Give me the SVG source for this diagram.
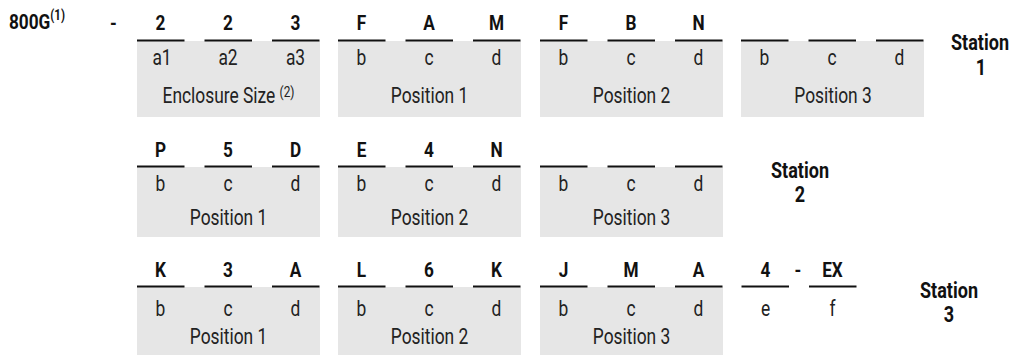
<svg xmlns="http://www.w3.org/2000/svg" width="1013" height="355" viewBox="0 0 1013 355">
<style>
text{font-family:Roboto,"Liberation Sans",sans-serif;fill:#111;text-anchor:middle;transform:scaleX(.82);transform-box:fill-box;transform-origin:50% 50%}
.big{font-weight:bold;font-size:21px}
.lab{font-size:22px;fill:#222;transform:scaleX(.79)}
.st{font-weight:bold;font-size:22px}
.s{text-anchor:start;transform-origin:0 50%}
.box{fill:#e6e6e6}
.ul{fill:#111}
</style>
<rect width="1013" height="355" fill="#fff"/>
<g id="prefix">
<text class="big s" x="9" y="29.5">800G<tspan font-size="14" dy="-9.5">(1)</tspan></text>
<text class="big" x="113.5" y="30">-</text>
</g>
<!-- Station 1 -->
<g id="s1-enclosure">
<rect class="box" x="137" y="41" width="183" height="76"/>
<rect class="ul" x="137" y="39.5" width="47.5" height="2"/><rect class="ul" x="204.5" y="39.5" width="47.5" height="2"/><rect class="ul" x="272" y="39.5" width="47.5" height="2"/>
<text class="big" x="160.5" y="30">2</text><text class="big" x="228" y="30">2</text><text class="big" x="295.5" y="30">3</text>
<text class="lab" x="162" y="65">a1</text><text class="lab" x="228" y="65">a2</text><text class="lab" x="295.5" y="65">a3</text>
<text class="lab" x="228.5" y="103.3">Enclosure Size <tspan font-size="15" dy="-6">(2)</tspan></text>
</g>
<g id="s1-pos1">
<rect class="box" x="338" y="41" width="183" height="76"/>
<rect class="ul" x="338" y="39.5" width="47.5" height="2"/><rect class="ul" x="405.5" y="39.5" width="47.5" height="2"/><rect class="ul" x="473" y="39.5" width="47.5" height="2"/>
<text class="big" x="361.5" y="30">F</text><text class="big" x="429" y="30">A</text><text class="big" x="496.5" y="30">M</text>
<text class="lab" x="361.5" y="65">b</text><text class="lab" x="429" y="65">c</text><text class="lab" x="496.5" y="65">d</text>
<text class="lab" x="429.5" y="103.3">Position 1</text>
</g>
<g id="s1-pos2">
<rect class="box" x="540" y="41" width="183" height="76"/>
<rect class="ul" x="540" y="39.5" width="47.5" height="2"/><rect class="ul" x="607.5" y="39.5" width="47.5" height="2"/><rect class="ul" x="675" y="39.5" width="47.5" height="2"/>
<text class="big" x="563.5" y="30">F</text><text class="big" x="631" y="30">B</text><text class="big" x="698.5" y="30">N</text>
<text class="lab" x="563.5" y="65">b</text><text class="lab" x="631" y="65">c</text><text class="lab" x="698.5" y="65">d</text>
<text class="lab" x="631.5" y="103.3">Position 2</text>
</g>
<g id="s1-pos3">
<rect class="box" x="741" y="41" width="183" height="76"/>
<rect class="ul" x="741" y="39.5" width="47.5" height="2"/><rect class="ul" x="808.5" y="39.5" width="47.5" height="2"/><rect class="ul" x="876" y="39.5" width="47.5" height="2"/>
<text class="lab" x="764.5" y="65">b</text><text class="lab" x="832" y="65">c</text><text class="lab" x="899.5" y="65">d</text>
<text class="lab" x="833" y="103.3">Position 3</text>
</g>
<g id="station1">
<text class="st" x="980" y="50">Station</text><text class="st" x="981" y="75">1</text>
</g>
<!-- Station 2 -->
<g id="s2-pos1">
<rect class="box" x="137" y="167" width="183" height="70"/>
<rect class="ul" x="137" y="165.5" width="47.5" height="2"/><rect class="ul" x="204.5" y="165.5" width="47.5" height="2"/><rect class="ul" x="272" y="165.5" width="47.5" height="2"/>
<text class="big" x="160.5" y="157">P</text><text class="big" x="228" y="157">5</text><text class="big" x="295.5" y="157">D</text>
<text class="lab" x="160.5" y="190.7">b</text><text class="lab" x="228" y="190.7">c</text><text class="lab" x="295.5" y="190.7">d</text>
<text class="lab" x="228.5" y="225.5">Position 1</text>
</g>
<g id="s2-pos2">
<rect class="box" x="338" y="167" width="183" height="70"/>
<rect class="ul" x="338" y="165.5" width="47.5" height="2"/><rect class="ul" x="405.5" y="165.5" width="47.5" height="2"/><rect class="ul" x="473" y="165.5" width="47.5" height="2"/>
<text class="big" x="361.5" y="157">E</text><text class="big" x="429" y="157">4</text><text class="big" x="496.5" y="157">N</text>
<text class="lab" x="361.5" y="190.7">b</text><text class="lab" x="429" y="190.7">c</text><text class="lab" x="496.5" y="190.7">d</text>
<text class="lab" x="429.5" y="225.5">Position 2</text>
</g>
<g id="s2-pos3">
<rect class="box" x="540" y="167" width="183" height="70"/>
<rect class="ul" x="540" y="165.5" width="47.5" height="2"/><rect class="ul" x="607.5" y="165.5" width="47.5" height="2"/><rect class="ul" x="675" y="165.5" width="47.5" height="2"/>
<text class="lab" x="563.5" y="190.7">b</text><text class="lab" x="631" y="190.7">c</text><text class="lab" x="698.5" y="190.7">d</text>
<text class="lab" x="631.5" y="225.5">Position 3</text>
</g>
<g id="station2">
<text class="st" x="800" y="178">Station</text><text class="st" x="800" y="202">2</text>
</g>
<!-- Station 3 -->
<g id="s3-pos1">
<rect class="box" x="137" y="287" width="183" height="68"/>
<rect class="ul" x="137" y="285.5" width="47.5" height="2"/><rect class="ul" x="204.5" y="285.5" width="47.5" height="2"/><rect class="ul" x="272" y="285.5" width="47.5" height="2"/>
<text class="big" x="160.5" y="276.7">K</text><text class="big" x="228" y="276.7">3</text><text class="big" x="295.5" y="276.7">A</text>
<text class="lab" x="160.5" y="316">b</text><text class="lab" x="228" y="316">c</text><text class="lab" x="295.5" y="316">d</text>
<text class="lab" x="228.5" y="344.5">Position 1</text>
</g>
<g id="s3-pos2">
<rect class="box" x="338" y="287" width="183" height="68"/>
<rect class="ul" x="338" y="285.5" width="47.5" height="2"/><rect class="ul" x="405.5" y="285.5" width="47.5" height="2"/><rect class="ul" x="473" y="285.5" width="47.5" height="2"/>
<text class="big" x="361.5" y="276.7">L</text><text class="big" x="429" y="276.7">6</text><text class="big" x="496.5" y="276.7">K</text>
<text class="lab" x="361.5" y="316">b</text><text class="lab" x="429" y="316">c</text><text class="lab" x="496.5" y="316">d</text>
<text class="lab" x="429.5" y="344.5">Position 2</text>
</g>
<g id="s3-pos3">
<rect class="box" x="540" y="287" width="183" height="68"/>
<rect class="ul" x="540" y="285.5" width="47.5" height="2"/><rect class="ul" x="607.5" y="285.5" width="47.5" height="2"/><rect class="ul" x="675" y="285.5" width="47.5" height="2"/>
<text class="big" x="563.5" y="276.7">J</text><text class="big" x="631" y="276.7">M</text><text class="big" x="698.5" y="276.7">A</text>
<text class="lab" x="563.5" y="316">b</text><text class="lab" x="631" y="316">c</text><text class="lab" x="698.5" y="316">d</text>
<text class="lab" x="631.5" y="344.5">Position 3</text>
</g>
<g id="s3-suffix">
<rect class="ul" x="741.5" y="285.5" width="47.5" height="2"/><rect class="ul" x="809" y="285.5" width="47.5" height="2"/>
<text class="big" x="765.5" y="276.7">4</text><text class="big" x="798" y="276.7">-</text><text class="big" x="832.5" y="276.7">EX</text>
<text class="lab" x="765.5" y="316">e</text><text class="lab" x="832.5" y="316">f</text>
</g>
<g id="station3">
<text class="st" x="949" y="298">Station</text><text class="st" x="949" y="322">3</text>
</g>
<g id="connectors"/>
</svg>
